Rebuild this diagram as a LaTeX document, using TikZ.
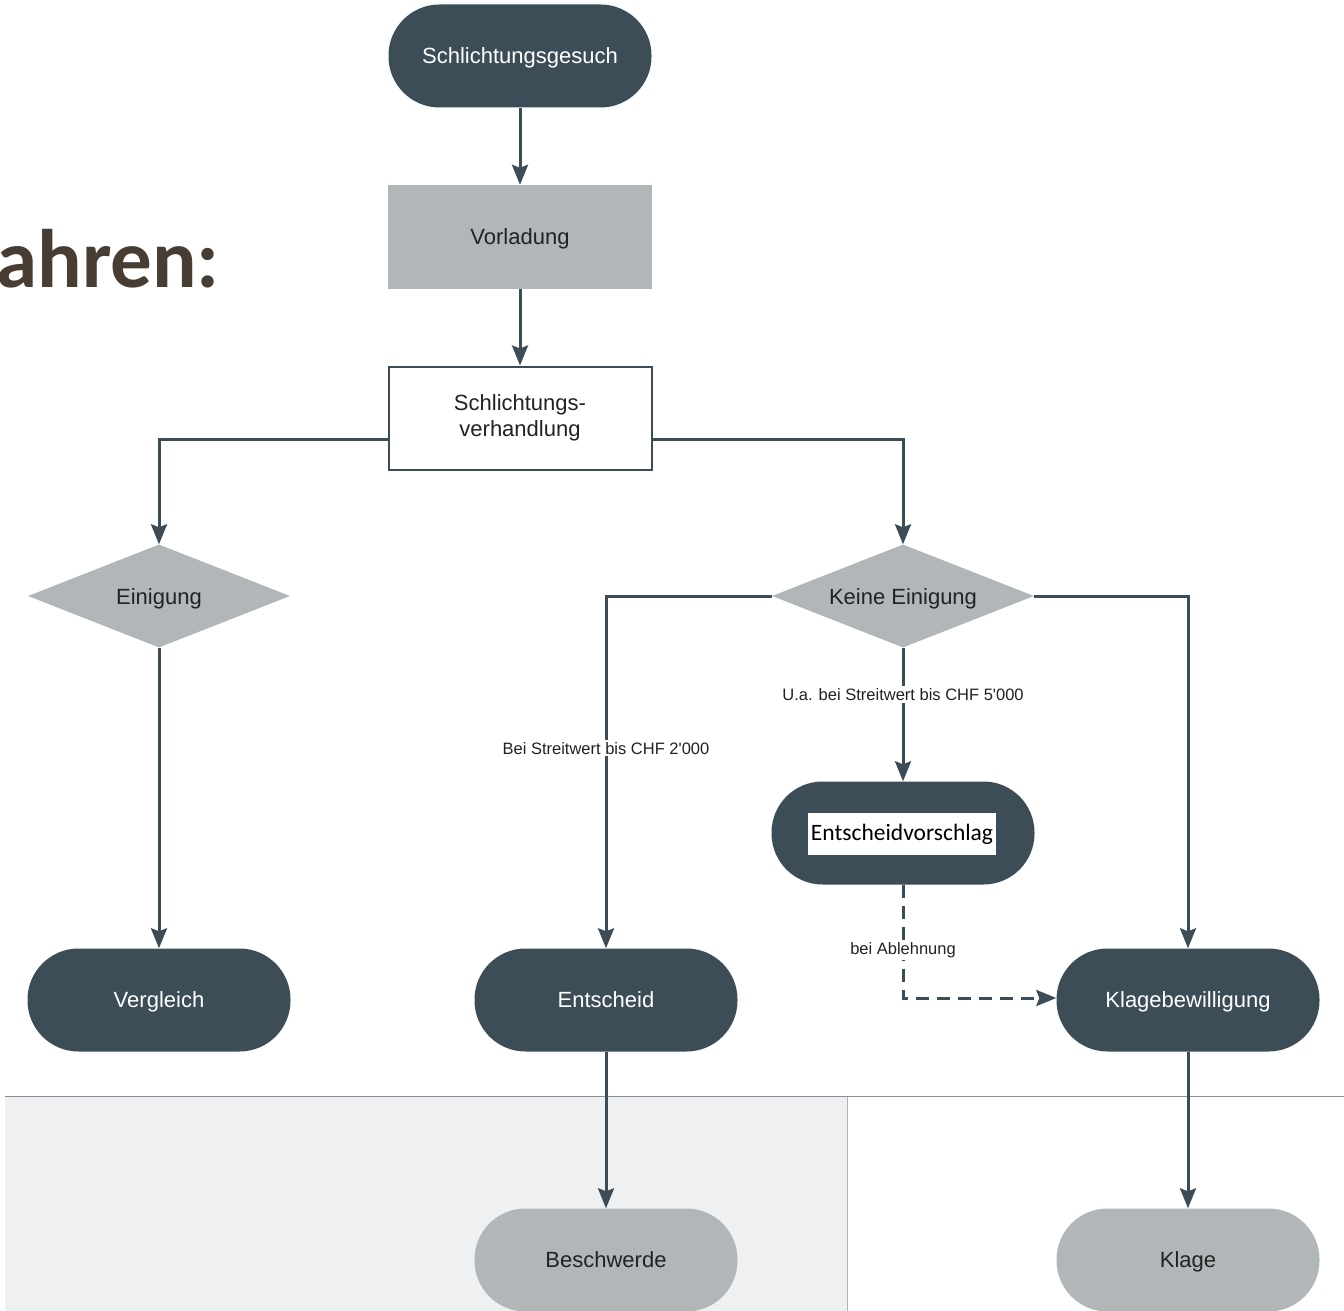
\documentclass[tikz,border=0pt]{standalone}
\usepackage{fontspec}
\setmainfont{Liberation Sans}
\newfontfamily\calibri{Carlito}
\usetikzlibrary{shapes.geometric,arrows.meta}
\definecolor{dark}{HTML}{3C4D57}
\definecolor{midgrey}{HTML}{B1B6B9}
\definecolor{lightbg}{HTML}{EFF0F1}
\definecolor{rulegrey}{HTML}{8A9095}
\definecolor{brown}{HTML}{473D32}
\definecolor{txt}{HTML}{222222}
\tikzset{
  stadium/.style={rectangle, rounded corners=51pt, minimum width=263pt, minimum height=103pt, inner sep=0pt, text depth=0pt, font=\fontsize{22}{26}\selectfont},
  darkstad/.style={stadium, fill=dark, text=white},
  greystad/.style={stadium, fill=midgrey, text=txt},
  boxnode/.style={rectangle, minimum width=264pt, minimum height=104pt, inner sep=0pt, font=\fontsize{22}{26}\selectfont, align=center, text=txt},
  decision/.style={diamond, fill=midgrey, minimum width=262pt, minimum height=103pt, inner sep=0pt},
  dectext/.style={font=\fontsize{22}{26}\selectfont, text=txt, text depth=0pt, inner sep=0pt},
  conn/.style={draw=dark, line width=3pt, -{Stealth[length=20pt,width=16pt,inset=3pt]}},
  lab/.style={fill=white, inner sep=2pt, font=\fontsize{16.5}{19}\selectfont, text=txt},
}
\begin{document}
\begin{tikzpicture}[x=1pt,y=-1pt]
\clip (0,0) rectangle (1344,1311);
\useasboundingbox (0,0) rectangle (1344,1311);
\fill[white] (0,0) rectangle (1344,1311);
% bottom band
\fill[lightbg] (5,1097) rectangle (847,1311);
\draw[lightgray!80!gray, line width=0.8pt] (847,1097) -- (847,1311);
\draw[rulegrey, line width=1.5pt] (5,1096.5) -- (1344,1096.5);
% title fragment
\node[anchor=base east, inner sep=0pt, font=\calibri\bfseries\fontsize{83}{92}\selectfont, text=brown] (title) at (220,287) {ahren:};
% nodes
\node[darkstad] (gesuch) at (520,56) {Schlichtungsgesuch};
\node[boxnode, fill=midgrey, text depth=0pt] (vorl) at (520,237) {Vorladung};
\node[boxnode, draw=dark, line width=2pt, fill=white, minimum width=263pt, minimum height=103pt] (verh) at (520,418) {Schlichtungs-\\verhandlung};
\node[decision] (ein) at (159,596) {};
\node[dectext] (eintext) at (159,597) {Einigung};
\node[decision] (kein) at (903,596) {};
\node[dectext] (keintext) at (903,597) {Keine Einigung};
\node[darkstad] (vergl) at (159,1000) {Vergleich};
\node[darkstad] (ents) at (606,1000) {Entscheid};
\node[darkstad] (vorsch) at (903,833) {};
\node[fill=white, text=black, minimum width=188pt, minimum height=42pt, inner sep=0pt, font=\calibri\fontsize{23.5}{27}\selectfont] (vtext) at (902,834) {Entscheidvorschlag};
\node[darkstad] (klb) at (1188,1000) {Klagebewilligung};
\node[greystad] (beschw) at (606,1260) {Beschwerde};
\node[greystad] (klage) at (1188,1260) {Klage};
% connectors
\draw[conn] (gesuch.south) -- (vorl.north);
\draw[conn] (vorl.south) -- (verh.north);
\draw[conn] ([yshift=-21pt]verh.west) -| (ein.north);
\draw[conn] ([yshift=-21pt]verh.east) -| (kein.north);
\draw[conn] (ein.south) -- (vergl.north);
\draw[conn] (kein.west) -| node[lab, pos=0.716] (l2000) {Bei Streitwert bis CHF 2\textquotesingle 000} (ents.north);
\draw[conn] (kein.east) -| (klb.north);
\draw[conn] (kein.south) -- node[lab, pos=0.35] (l5000) {U.a. bei Streitwert bis CHF 5\textquotesingle 000} (vorsch.north);
\draw[conn, dash pattern=on 13pt off 8pt] (vorsch.south) |- node[lab, pos=0.29] (lab) {bei Ablehnung} ([yshift=2pt]klb.west);
\draw[conn] (ents.south) -- (beschw.north);
\draw[conn] (klb.south) -- (klage.north);
\end{tikzpicture}
\end{document}
